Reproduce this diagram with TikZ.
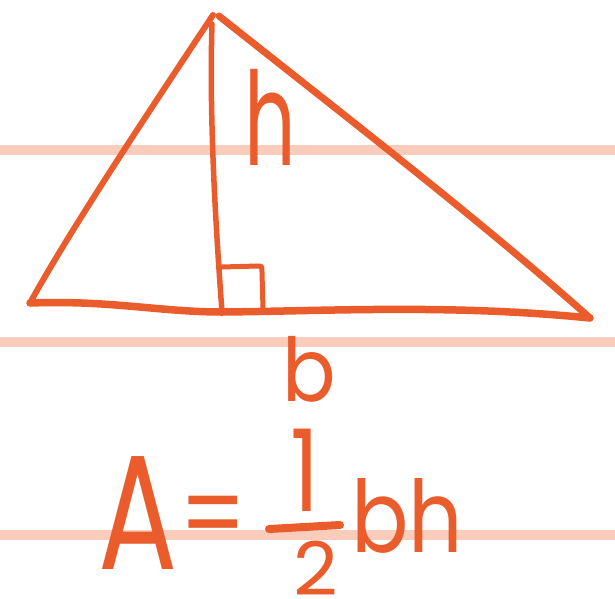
\documentclass[tikz,border=0pt]{standalone}
\usepackage{fontspec}
\usepackage{graphicx}
\newfontfamily\handfont{Poppins}
\definecolor{ink}{RGB}{234,92,44}
\definecolor{rule}{RGB}{249,204,188}
\newcommand{\hand}[3]{{\handfont\fontsize{#1}{#1}\selectfont\scalebox{#2}[1]{#3}}}
\begin{document}
\begin{tikzpicture}[x=1pt,y=-1pt,
  ruleline/.style={draw=rule,line width=10pt},
  pen/.style={draw=ink,line width=6pt,line cap=round,line join=round},
  label/.style={text=ink,inner sep=0pt,anchor=base,text depth=0pt}]
\useasboundingbox (0,0) rectangle (615,598);
% ruled lines
\draw[ruleline] (0,150) -- (615,150);
\draw[ruleline] (0,342) -- (615,342);
\draw[ruleline] (0,535) -- (615,535);
% triangle
\coordinate (apex) at (213,15);
\coordinate (apexr) at (219,16);
\coordinate (bl) at (30,303);
\coordinate (br) at (590,318);
\coordinate (foot) at (222,312);
\draw[pen] (apex) .. controls (150,110) and (70,230) .. (bl);
\draw[pen,line width=7pt] (apexr) .. controls (350,120) and (480,220) .. (br);
\draw[pen,line width=7.5pt] (bl) .. controls (110,300) and (160,312) .. (foot)
  .. controls (330,311) and (450,304) .. (br);
\draw[pen,line width=5.5pt] (212,24) .. controls (209,120) and (216,230) .. (foot);
% right angle mark
\draw[pen,line width=5pt] (221,267) -- (258,266) .. controls (262,266) .. (262,272) -- (263,310);
% labels
\node[label] (h) at (270,165) {\hand{130}{0.62}{h}};
\node[label] (b) at (309,401) {\hand{88}{0.9}{b}};
\node[label] (A) at (138,569) {\hand{163}{0.72}{A}};
\node[label] (eq) at (213,552) {\hand{110}{0.85}{=}};
\node[label] (one) at (305,511) {\hand{114}{0.8}{1}};
\draw[pen,line width=8pt] (269,529) -- (340,525);
\node[label] (two) at (316,595) {\hand{74}{1.05}{2}};
\node[label] (bh) at (407,552) {\hand{100}{0.85}{bh}};
\end{tikzpicture}
\end{document}
